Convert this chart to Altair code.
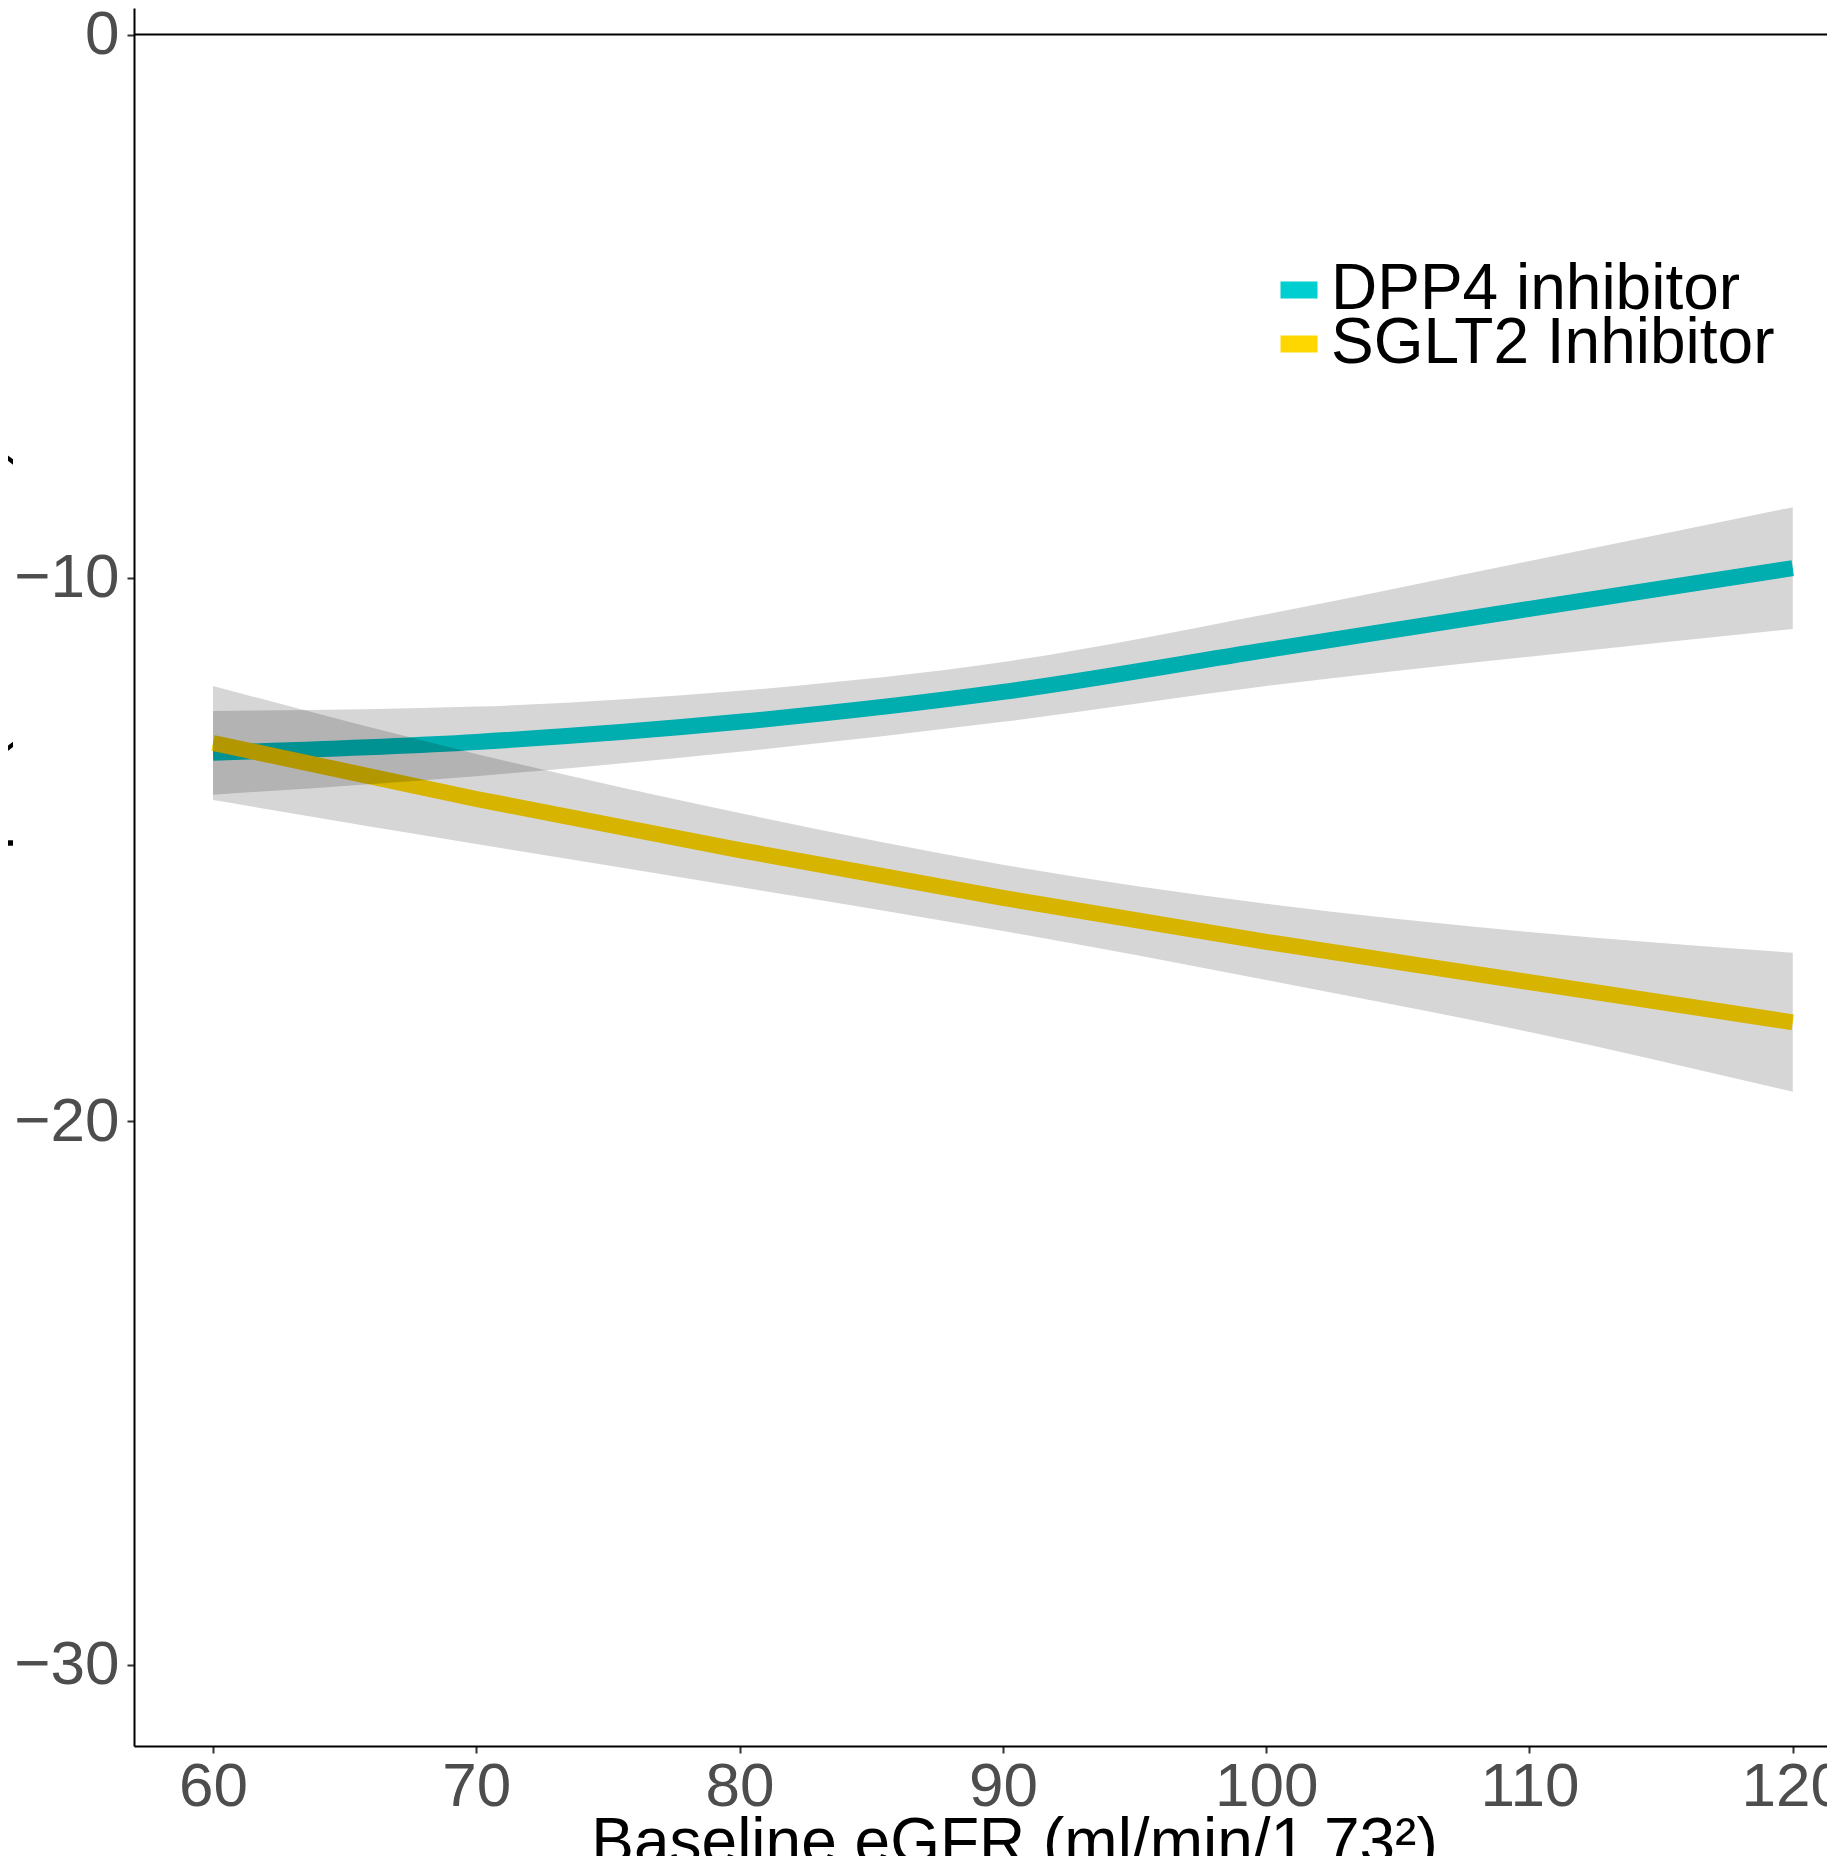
import altair as alt
import pandas as pd

# ---- data ----
egfr = [60, 70, 80, 90, 100, 110, 120]

dpp4_fit = [-13.22, -13.02, -12.65, -12.10, -11.33, -10.57, -9.82]
dpp4_hi = [-12.45, -12.37, -12.08, -11.55, -10.67, -9.69, -8.70]
dpp4_lo = [-13.99, -13.65, -13.20, -12.65, -11.99, -11.45, -10.94]

sglt2_fit = [-13.04, -14.07, -15.01, -15.89, -16.70, -17.44, -18.18]
sglt2_hi = [-11.99, -13.24, -14.33, -15.28, -16.00, -16.52, -16.90]
sglt2_lo = [-14.09, -14.90, -15.69, -16.50, -17.40, -18.36, -19.46]

groups = ["DPP4 inhibitor", "SGLT2 Inhibitor"]
colors = ["#00CED1", "#FFD700"]

x_ticks = [60, 70, 80, 90, 100, 110, 120]
y_ticks = [0, -10, -20, -30]
ref_line = [0]

x_title = "Baseline eGFR (ml/min/1.73²)"
y_title = "Mean eGFR slope (ml/min/m²)"

rows = []
for i, xv in enumerate(egfr):
    rows.append({"egfr": xv, "group": groups[0], "fit": dpp4_fit[i], "lo": dpp4_lo[i], "hi": dpp4_hi[i]})
for i, xv in enumerate(egfr):
    rows.append({"egfr": xv, "group": groups[1], "fit": sglt2_fit[i], "lo": sglt2_lo[i], "hi": sglt2_hi[i]})
df = pd.DataFrame(rows)
zero_df = pd.DataFrame({"y": ref_line})

FONT = "Liberation Sans"

xscale = alt.Scale(domain=[57, 121.3], nice=False, zero=False)
yscale = alt.Scale(domain=[-31.5, 0.488], nice=False, zero=False)

xaxis = alt.Axis(
    values=x_ticks, grid=False, title=x_title,
    labelFont=FONT, labelFontSize=62, labelColor="#4D4D4D", labelPadding=3,
    labelFlush=False, labelOverlap=False,
    tickColor="#333333", tickWidth=2, tickSize=7,
    domainColor="black", domainWidth=2,
    titleFont=FONT, titleFontSize=64, titleFontWeight="normal", titleColor="black",
    titleX=880, titleY=116, titleBaseline="alphabetic", titleAlign="center",
)
yaxis = alt.Axis(
    values=y_ticks, grid=False, title=y_title,
    labelFont=FONT, labelFontSize=62, labelColor="#4D4D4D", labelPadding=8,
    labelOverlap=False, labelFlush=False,
    tickColor="#333333", tickWidth=2, tickSize=7,
    domainColor="black", domainWidth=2,
    titleFont=FONT, titleFontSize=63, titleFontWeight="normal", titleColor="black",
    titleX=-122, titleY=859, titleBaseline="bottom", titleAngle=270, titleAlign="center",
)

X = alt.X("egfr:Q", scale=xscale, axis=xaxis)

rule = alt.Chart(zero_df).mark_rule(color="black", strokeWidth=2).encode(
    y=alt.Y("y:Q", scale=yscale, axis=yaxis)
)

legend_y = [250, 304]


def line_layer(i):
    return alt.Chart(df).transform_filter(
        alt.datum.group == groups[i]
    ).mark_line(strokeWidth=16, interpolate="monotone", clip=True).encode(
        x=X,
        y=alt.Y("fit:Q", scale=yscale, axis=yaxis),
        color=alt.Color(
            "group:N",
            scale=alt.Scale(domain=[groups[i]], range=[colors[i]]),
            legend=alt.Legend(
                title=None, orient="none", legendX=1133, legendY=legend_y[i],
                labelFont=FONT, labelFontSize=64, labelColor="black", labelOffset=0,
                symbolType="stroke", symbolStrokeWidth=17, symbolSize=1369,
                symbolOpacity=1, padding=0, labelLimit=1000,
            ),
        ),
    )


bands = alt.Chart(df).mark_area(color="black", opacity=0.16, interpolate="monotone", clip=True).encode(
    x=X,
    y=alt.Y("lo:Q", scale=yscale, axis=yaxis),
    y2="hi:Q",
    detail="group:N",
)

chart = alt.layer(rule, line_layer(0), line_layer(1), bands).resolve_scale(
    color="independent"
).properties(
    width=1693, height=1738,
    autosize=alt.AutoSizeParams(type="none"),
    padding={"left": 126, "top": 0, "right": 0, "bottom": 110},
    background="white",
).configure_view(stroke=None)

chart.save("out.html", embed_options={"renderer": "svg", "actions": False})
